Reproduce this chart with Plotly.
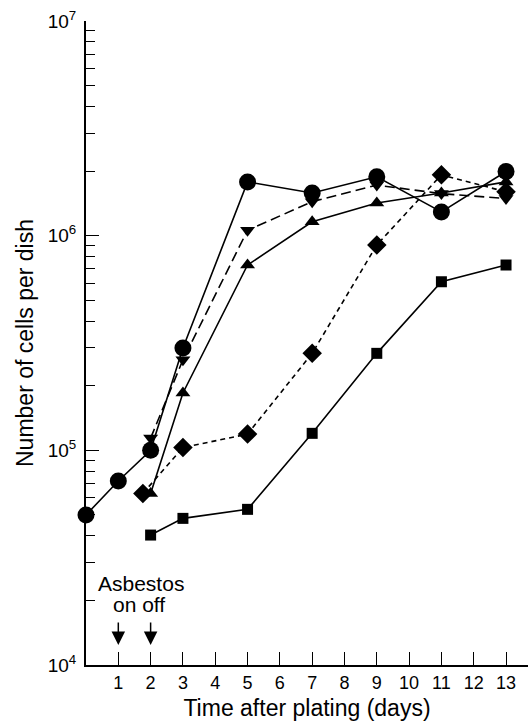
import plotly.graph_objects as go

# Data (cells per dish vs day)
circle_days = [0, 1, 2, 3, 5, 7, 9, 11, 13]
circle_vals = [5.0e4, 7.2e4, 1.0e5, 3.0e5, 1.78e6, 1.58e6, 1.88e6, 1.29e6, 1.99e6]

tridown_days = [2, 3, 5, 7, 9, 11, 13]
tridown_vals = [1.14e5, 2.64e5, 1.06e6, 1.44e6, 1.72e6, 1.57e6, 1.49e6]

triup_days = [2, 3, 5, 7, 9, 11, 13]
triup_vals = [6.3e4, 1.85e5, 7.3e5, 1.16e6, 1.42e6, 1.58e6, 1.78e6]

diamond_days = [1.76, 3, 5, 7, 9, 11, 13]
diamond_vals = [6.3e4, 1.03e5, 1.19e5, 2.83e5, 9.05e5, 1.92e6, 1.60e6]

square_days = [2, 3, 5, 7, 9, 11, 13]
square_vals = [4.03e4, 4.82e4, 5.31e4, 1.2e5, 2.83e5, 6.1e5, 7.3e5]

x_ticks = list(range(1, 14))
y_ticks = [1e4, 1e5, 1e6, 1e7]
y_tick_text = ["10<sup>4</sup>", "10<sup>5</sup>", "10<sup>6</sup>", "10<sup>7</sup>"]
y_minor = [m * 10 ** e for e in (4, 5, 6) for m in range(2, 10)]

arrow_days = [1, 2]

FONT = "Liberation Sans, Arial, sans-serif"

fig = go.Figure()

def add(xs, ys, symbol, size, dash):
    fig.add_trace(go.Scatter(
        x=xs, y=ys, mode="lines+markers",
        line=dict(color="black", width=1.6, dash=dash),
        marker=dict(symbol=symbol, size=size, color="black", line=dict(width=0)),
        cliponaxis=False, showlegend=False,
    ))

add(square_days, square_vals, "square", 11, "solid")
add(diamond_days, diamond_vals, "diamond", 15, "5px,4px")
add(triup_days, triup_vals, "triangle-up", 13, "solid")
add(tridown_days, tridown_vals, "triangle-down", 13, "10px,5px")
add(circle_days, circle_vals, "circle", 17, "solid")

for d in arrow_days:
    fig.add_annotation(x=d, y=4.093, xref="x", yref="y", ax=0, ay=-24,
                       showarrow=True, arrowhead=2, arrowsize=1.8, arrowwidth=1.5,
                       arrowcolor="black", text="")

fig.add_annotation(x=1.70, y=4.382, xref="x", yref="y", text="Asbestos",
                   showarrow=False, font=dict(size=21, color="black", family=FONT))
fig.add_annotation(x=1.63, y=4.280, xref="x", yref="y", text="on off",
                   showarrow=False, font=dict(size=21, color="black", family=FONT))

fig.update_layout(
    width=528, height=721,
    margin=dict(l=86, r=0, t=21, b=56),
    paper_bgcolor="white", plot_bgcolor="white",
    font=dict(family=FONT, color="black", size=18),
    xaxis=dict(
        range=[0, 13.68], tickvals=x_ticks, ticks="inside", ticklen=13, tickwidth=1.3,
        tickcolor="black", showline=True, linecolor="black", linewidth=2,
        showgrid=False, zeroline=False, automargin=False,
        tickfont=dict(size=18),
        title=dict(text="Time after plating (days)", font=dict(size=23), standoff=8),
    ),
    yaxis=dict(
        type="log", range=[4, 7], tickvals=y_ticks, ticktext=y_tick_text,
        ticks="inside", ticklen=13, tickwidth=1.3, tickcolor="black",
        minor=dict(tickvals=y_minor, ticks="inside", ticklen=9, tickwidth=1.2,
                   tickcolor="black", showgrid=False),
        showline=True, linecolor="black", linewidth=2, showgrid=False, zeroline=False,
        automargin=False, ticklabelstandoff=4,
        tickfont=dict(size=19),
        title=dict(text="Number of cells per dish", font=dict(size=23), standoff=8),
    ),
)

fig.write_html("out.html", config={"displayModeBar": False},
               post_script="document.body.style.margin='0';document.body.style.overflow='hidden';")
